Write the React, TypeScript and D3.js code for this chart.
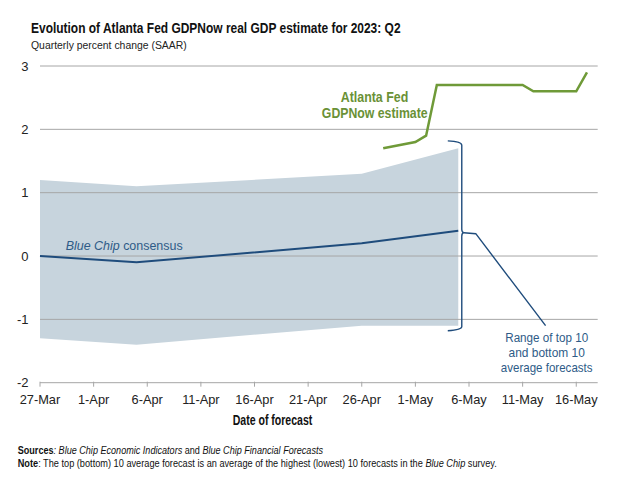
import React, { useLayoutEffect, useRef, useState } from "react";
import * as d3 from "d3";

const W = 618;
const H = 504;

// Blue Chip band (top 10 / bottom 10 averages) and consensus
const bandDates = ["2023-03-27", "2023-04-05", "2023-04-26", "2023-05-05"];
const bandTop = [1.2, 1.1, 1.3, 1.7];
const bandBottom = [-1.3, -1.4, -1.1, -1.1];
const consensus = [0.0, -0.1, 0.2, 0.4];

// Atlanta Fed GDPNow
const gdpNowDates = [
  "2023-04-28", "2023-05-01", "2023-05-02", "2023-05-03",
  "2023-05-11", "2023-05-12", "2023-05-16", "2023-05-17",
];
const gdpNowValues = [1.7, 1.8, 1.9, 2.7, 2.7, 2.6, 2.6, 2.9];

const xTickDates = [
  "2023-03-27", "2023-04-01", "2023-04-06", "2023-04-11", "2023-04-16", "2023-04-21",
  "2023-04-26", "2023-05-01", "2023-05-06", "2023-05-11", "2023-05-16",
];
const xTickLabels = [
  "27-Mar", "1-Apr", "6-Apr", "11-Apr", "16-Apr", "21-Apr",
  "26-Apr", "1-May", "6-May", "11-May", "16-May",
];
const yTicks = [3, 2, 1, 0, -1, -2];

const parse = (s: string) => {
  const [yy, mm, dd] = s.split("-").map(Number);
  return new Date(yy, mm - 1, dd);
};

const FONT = "'Liberation Sans', Arial, sans-serif";

const BLUE = "#1f4c7c";
const BLUE_TEXT = "#2e5b87";
const GREEN = "#6f9a38";
const GREEN_TEXT = "#6a9136";
const BAND = "#c7d4dd";
const GRID = "#a6a6a6";

type FitProps = {
  x: number;
  y: number;
  width: number;
  anchor?: "start" | "middle" | "end";
  children: React.ReactNode;
  [k: string]: any;
};

function FitText({ x, y, width, anchor = "start", children, ...rest }: FitProps) {
  const ref = useRef<SVGTextElement>(null);
  const [sx, setSx] = useState(1);
  useLayoutEffect(() => {
    if (ref.current) {
      const w = ref.current.getBBox().width;
      if (w > 0) setSx(width / w);
    }
  }, [width]);
  return (
    <g transform={`translate(${x},${y}) scale(${sx},1)`}>
      <text ref={ref} x={0} y={0} textAnchor={anchor} fontFamily={FONT} {...rest}>
        {children}
      </text>
    </g>
  );
}

export default function App() {
  const x = d3
    .scaleTime()
    .domain([parse("2023-03-27"), parse("2023-05-18")])
    .range([40, 597.7]);
  const y = d3.scaleLinear().domain([-2, 3]).range([382.7, 66]);

  const band = bandDates.map((d, i) => ({ d: parse(d), top: bandTop[i], bot: bandBottom[i], c: consensus[i] }));
  const area = d3
    .area<any>()
    .x((p) => x(p.d))
    .y0((p) => y(p.bot))
    .y1((p) => y(p.top));
  const consLine = d3
    .line<any>()
    .x((p) => x(p.d))
    .y((p) => y(p.c));
  const gdp = gdpNowDates.map((d, i) => ({ d: parse(d), v: gdpNowValues[i] }));
  const gdpLine = d3
    .line<any>()
    .x((p) => x(p.d))
    .y((p) => y(p.v));

  const [x0, x1] = x.range();

  // bracket annotation geometry derived from scales
  const lastBand = band[band.length - 1];
  const bx = x(lastBand.d) + 3.5;
  const bTop = y(lastBand.top) - 6;
  const bBot = y(lastBand.bot) + 4;
  const bMid = y(lastBand.c) + 1.5;
  const hook = 14;
  const bracket = `M${bx - hook},${bTop - 1.5} Q${bx},${bTop - 1} ${bx},${bTop + 3} L${bx},${bMid - 3} Q${bx},${bMid} ${bx + 2},${bMid + 0.5} Q${bx},${bMid + 1} ${bx},${bMid + 4} L${bx},${bBot - 3} Q${bx},${bBot} ${bx - hook},${bBot + 1}`;
  const pointerStart: [number, number] = [bx + 2, bMid + 0.5];
  const pointerKnee: [number, number] = [bx + 14, bMid + 1.5];
  const pointerEnd: [number, number] = [x(parse("2023-05-13")) + 1.5, y(-1.1)];

  return (
    <svg
      width={W}
      height={H}
      viewBox={`0 0 ${W} ${H}`}
      style={{ position: "absolute", left: 0, top: 0, background: "#fff" }}
    >
      <rect width={W} height={H} fill="#fff" />
      {/* Title */}
      <FitText x={31} y={33.3} width={370} fontWeight="bold" fontSize={14.5} fill="#111">
        Evolution of Atlanta Fed GDPNow real GDP estimate for 2023: Q2
      </FitText>
      <FitText x={31} y={49} width={156} fontSize={11.5} fill="#222">
        Quarterly percent change (SAAR)
      </FitText>

      {/* band */}
      <path d={area(band) || ""} fill={BAND} />

      {/* gridlines */}
      {yTicks
        .filter((t) => t !== -2)
        .map((t) => (
          <line key={t} x1={x0} x2={x1} y1={y(t)} y2={y(t)} stroke={GRID} strokeWidth={1} />
        ))}
      {/* x axis */}
      <line x1={x0} x2={x1} y1={y(-2)} y2={y(-2)} stroke={GRID} strokeWidth={1} />
      {xTickDates.map((d, i) => (
        <g key={d}>
          <line x1={x(parse(d))} x2={x(parse(d))} y1={y(-2) - 1} y2={y(-2) + 4} stroke={GRID} strokeWidth={1} />
          <text x={x(parse(d))} y={404} textAnchor="middle" fontFamily={FONT} fontSize={12.8} fill="#222">
            {xTickLabels[i]}
          </text>
        </g>
      ))}
      {/* y labels */}
      {yTicks.map((t) => (
        <text key={t} x={28.5} y={y(t) + 4.5} textAnchor="end" fontFamily={FONT} fontSize={13} fill="#222">
          {t}
        </text>
      ))}

      {/* consensus line */}
      <path d={consLine(band) || ""} fill="none" stroke={BLUE} strokeWidth={2} />
      {/* GDPNow line */}
      <path d={gdpLine(gdp) || ""} fill="none" stroke={GREEN} strokeWidth={2.5} strokeLinejoin="miter" />

      {/* bracket */}
      <path d={bracket} fill="none" stroke={BLUE} strokeWidth={1.4} />
      <polyline
        points={[pointerStart, pointerKnee, pointerEnd].map((p) => p.join(",")).join(" ")}
        fill="none"
        stroke={BLUE}
        strokeWidth={1.4}
      />

      {/* labels */}
      <FitText x={65.7} y={249.5} width={117.6} fontSize={13} fill={BLUE_TEXT}>
        <tspan fontStyle="italic">Blue Chip</tspan> consensus
      </FitText>
      <FitText x={374.5} y={101.5} width={67.6} anchor="middle" fontWeight="bold" fontSize={14} fill={GREEN_TEXT}>
        Atlanta Fed
      </FitText>
      <FitText x={374.7} y={117.5} width={106} anchor="middle" fontWeight="bold" fontSize={14} fill={GREEN_TEXT}>
        GDPNow estimate
      </FitText>
      <FitText x={546.7} y={342} width={83.3} anchor="middle" fontSize={12} fill={BLUE_TEXT}>
        Range of top 10
      </FitText>
      <FitText x={546.7} y={357} width={76.7} anchor="middle" fontSize={12} fill={BLUE_TEXT}>
        and bottom 10
      </FitText>
      <FitText x={546.7} y={371.5} width={91.7} anchor="middle" fontSize={12} fill={BLUE_TEXT}>
        average forecasts
      </FitText>

      {/* axis title */}
      <FitText x={272.5} y={425} width={80} anchor="middle" fontWeight="bold" fontSize={14} fill="#111">
        Date of forecast
      </FitText>

      {/* footnotes */}
      <FitText x={17.7} y={453.5} width={305.5} fontSize={11.5} fill="#111">
        <tspan fontWeight="bold">Sources</tspan>
        <tspan fontStyle="italic">: Blue Chip Economic Indicators</tspan>
        <tspan> and </tspan>
        <tspan fontStyle="italic">Blue Chip Financial Forecasts</tspan>
      </FitText>
      <FitText x={17.7} y={467} width={479.5} fontSize={11.5} fill="#111">
        <tspan fontWeight="bold">Note</tspan>
        <tspan>: The top (bottom) 10 average forecast is an average of the highest (lowest) 10 forecasts in the </tspan>
        <tspan fontStyle="italic">Blue Chip</tspan>
        <tspan> survey.</tspan>
      </FitText>
    </svg>
  );
}
